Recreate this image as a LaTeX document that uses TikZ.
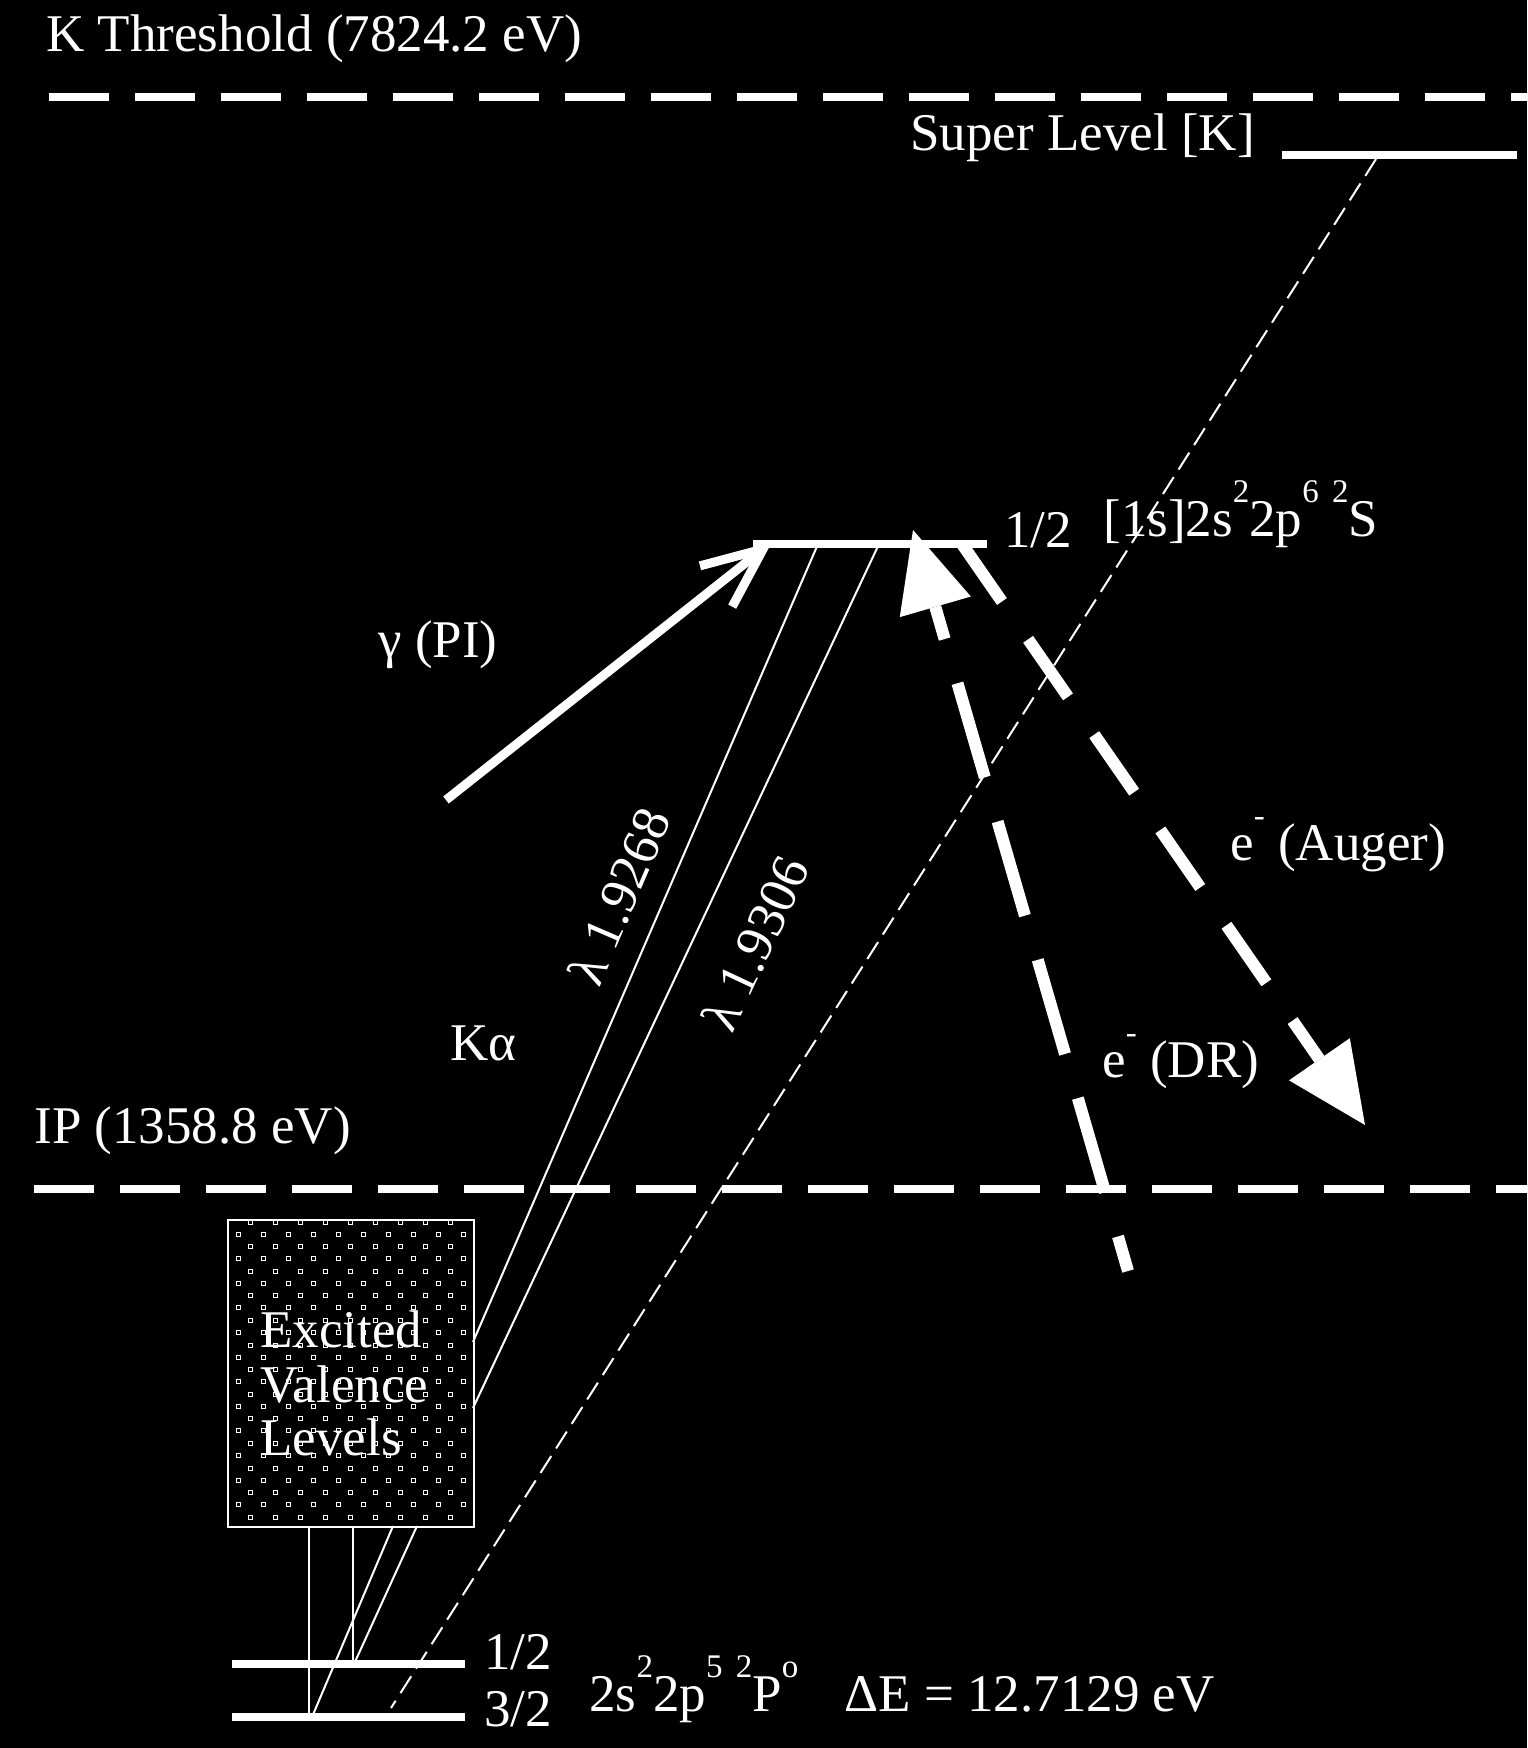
\documentclass[tikz,border=0pt]{standalone}
\usepackage{fontspec}
\setmainfont{Liberation Serif}
\usetikzlibrary{arrows.meta}
\newcommand{\supx}[1]{\raisebox{17pt}{\fontsize{16.5pt}{16.5pt}\selectfont #1}}
\begin{document}
\begin{tikzpicture}[x=0.5pt,y=-0.5pt,
  lbl/.style={text=white,inner sep=0pt,anchor=base west,font=\fontsize{26.5pt}{30pt}\selectfont},
  rlbl/.style={text=white,inner sep=0pt,anchor=center,font=\fontsize{26.5pt}{30pt}\selectfont},
  levelbar/.style={white,line width=4pt},
  thresh/.style={white,line width=4pt,dash pattern=on 30pt off 13pt},
  thinln/.style={white,line width=1pt},
  thindash/.style={white,line width=1pt,dash pattern=on 10pt off 4.5pt},
  photon/.style={white,line width=4.5pt,-{Straight Barb[length=30pt,width=26pt]}},
  elec/.style={white,line width=6pt,-{Triangle[length=40pt,width=37pt,line width=0pt]}},
  dotsq/.style={white,line width=0.5pt}]
\fill[black] (0,0) rectangle (1527,1748);
\useasboundingbox (0,0) rectangle (1527,1748);

% thresholds
\coordinate (kL) at (49,97);  \coordinate (kR) at (1527,97);
\coordinate (ipL) at (34,1189); \coordinate (ipR) at (1527,1189);
\draw[thresh] (kL) -- (kR);
\draw[thresh] (ipL) -- (ipR);
\node[lbl] (kth) at (46,52) {K Threshold (7824.2 eV)};
\node[lbl] (ipt) at (34,1143) {IP (1358.8 eV)};

% levels
\coordinate (slL) at (1282,155); \coordinate (slR) at (1517,155);
\coordinate (upL) at (753,544);  \coordinate (upR) at (987,544);
\coordinate (g12L) at (232,1664); \coordinate (g12R) at (465,1664);
\coordinate (g32L) at (232,1717); \coordinate (g32R) at (465,1717);
\draw[levelbar] (slL) -- (slR);
\draw[levelbar] (upL) -- (upR);
\draw[levelbar] (g12L) -- (g12R);
\draw[levelbar] (g32L) -- (g32R);

\node[lbl] (sltxt) at (910,151) {Super Level [K]};
\node[lbl] (uphalf) at (1004,547) {1/2};
\node[lbl] (upconf) at (1103,537) {[1s]2s\supx{2}2p\supx{6} \supx{2}S};
\node[lbl] (lohalf) at (484,1669) {1/2};
\node[lbl] (lothree) at (484,1726) {3/2};
\node[lbl] (loconf) at (589,1711) {2s\supx{2}2p\supx{5} \supx{2}P\supx{o}};
\node[lbl] (dE) at (844,1711) {ΔE = 12.7129 eV};

% excited valence box
\node (box) [draw=white,line width=1pt,minimum width=123pt,minimum height=153.5pt,inner sep=0pt,anchor=north west] at (227,1219) {};
\begin{scope}
  \clip (227,1219) rectangle (473,1526);
  \foreach \k in {0,...,11}{\foreach \j in {0,...,9}{
    \draw[dotsq] ({236+25*\j},{1232+24.6*\k}) rectangle +(4,4);}}
  \foreach \k in {0,...,12}{\foreach \j in {0,...,8}{
    \draw[dotsq] ({248+25*\j},{1220+24.6*\k}) rectangle +(4,4);}}
\end{scope}
\node[lbl] (ev1) at (260,1347) {Excited};
\node[lbl] (ev2) at (260,1402) {Valence};
\node[lbl] (ev3) at (260,1455) {Levels};

% lines from box to ground levels
\coordinate (b1) at (309,1526); \coordinate (b1e) at (309,1717);
\coordinate (b2) at (353,1526); \coordinate (b2e) at (353,1664);
\coordinate (b3) at (393,1526); \coordinate (b3e) at (312,1717);
\coordinate (b4) at (417,1526); \coordinate (b4e) at (354,1664);
\draw[thinln] (b1) -- (b1e);
\draw[thinln] (b2) -- (b2e);
\draw[thinln] (b3) -- (b3e);
\draw[thinln] (b4) -- (b4e);

% K alpha lines
\coordinate (ka1t) at (818,544); \coordinate (ka1b) at (473,1342);
\coordinate (ka2t) at (879,544); \coordinate (ka2b) at (473,1408);
\draw[thinln] (ka1t) -- (ka1b);
\draw[thinln] (ka2t) -- (ka2b);
\node[rlbl,rotate=66.6] (lam1) at (619,896) {λ 1.9268};
\node[rlbl,rotate=64.8] (lam2) at (755,943) {λ 1.9306};
\node[lbl] (kalpha) at (450,1060) {Kα};

% super level dashed line
\coordinate (sdt) at (1376,159); \coordinate (sdb) at (391,1708);
\draw[thindash] (sdt) -- (sdb);

% photoionization
\coordinate (pit) at (446,800); \coordinate (pih) at (772,542);
\draw[photon] (pit) -- (pih);
\node[lbl] (pitxt) at (378,657) {γ (PI)};

% DR electron
\coordinate (drb) at (1128,1271); \coordinate (drt) at (913,530);
\draw[elec,dash pattern=on 49pt off 23pt,dash phase=31pt] (drb) -- (drt);
\node[lbl] (drtxt) at (1102,1077) {e\supx{-} (DR)};

% Auger electron
\coordinate (aut) at (962,544); \coordinate (auh) at (1365,1125);
\draw[elec,dash pattern=on 35pt off 23pt] (aut) -- (auh);
\node[lbl] (autxt) at (1230,860) {e\supx{-} (Auger)};
\end{tikzpicture}
\end{document}
